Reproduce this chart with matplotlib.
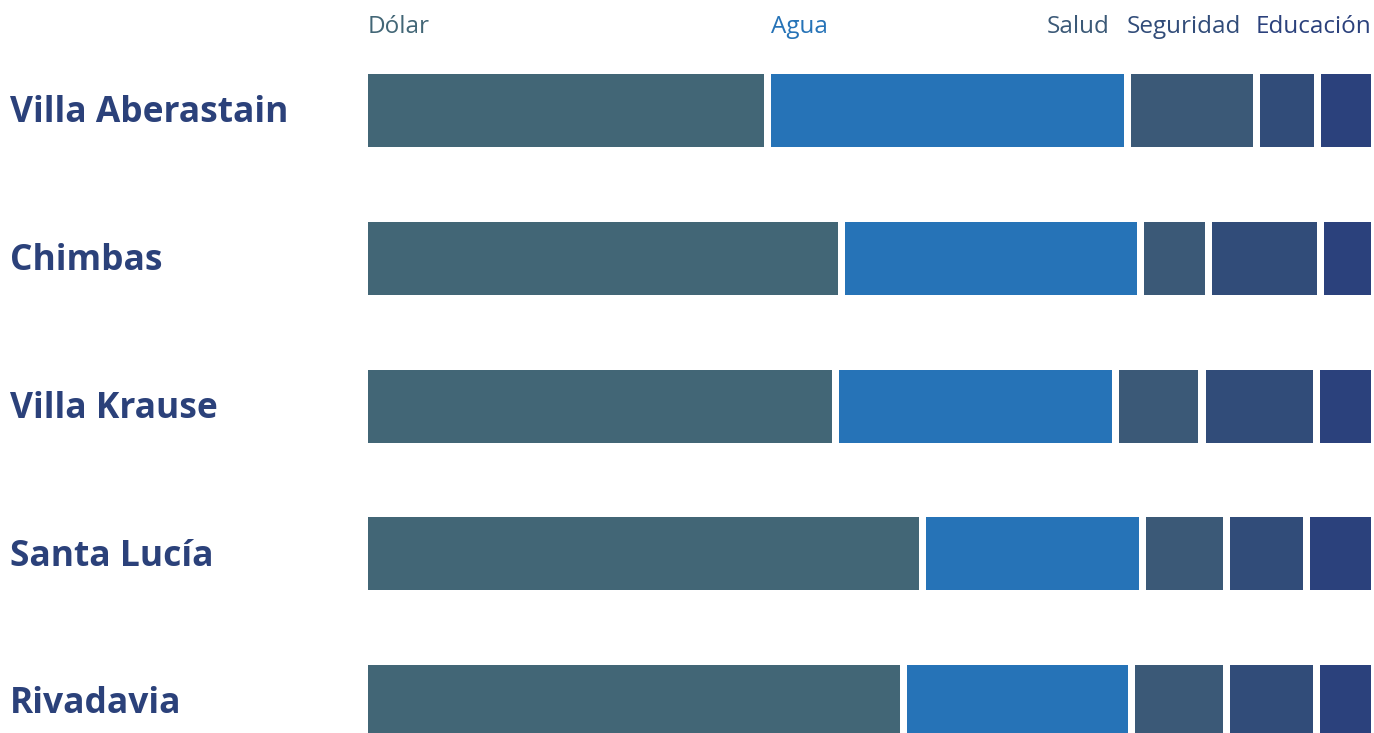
#!/usr/bin/env python3
"""Stacked horizontal bars: main concerns per locality (San Juan)."""
import matplotlib
matplotlib.use("Agg")
import matplotlib.pyplot as plt
from matplotlib.transforms import blended_transform_factory

# data (share of answers, %)
LOCALIDADES = ["Villa Aberastain", "Chimbas", "Villa Krause", "Santa Lucía", "Rivadavia"]
TEMAS = ["Dólar", "Agua", "Salud", "Seguridad", "Educación"]
DOLAR = [40.2, 47.6, 47.0, 55.6, 53.7]
AGUA = [35.9, 29.8, 27.9, 22.0, 22.8]
SALUD = [12.8, 6.7, 8.6, 8.3, 9.4]
SEGURIDAD = [6.1, 11.2, 11.4, 8.0, 9.0]
EDUCACION = [5.0, 4.7, 5.1, 6.1, 5.1]

COLORS = {
    "Dólar": "#426676",
    "Agua": "#2673B7",
    "Salud": "#3B5977",
    "Seguridad": "#314C79",
    "Educación": "#2B417C",
}
LABEL_COLOR = "#2B417A"
GAP = 0.7  # white space between segments, in % units

W, H = 1374, 733
fig = plt.figure(figsize=(W / 100, H / 100), dpi=100)
ax = fig.add_axes([368 / W, 0, (1371 - 368) / W, 1])

series = [DOLAR, AGUA, SALUD, SEGURIDAD, EDUCACION]
ys = list(range(len(LOCALIDADES)))
lefts = [0.0] * len(LOCALIDADES)
for k, (tema, vals) in enumerate(zip(TEMAS, series)):
    last = k == len(series) - 1
    widths = [v if last else v - GAP for v in vals]
    ax.barh(ys, widths, left=lefts, height=0.494, color=COLORS[tema],
            linewidth=0)
    lefts = [l + v for l, v in zip(lefts, vals)]

ax.set_xlim(0, 100)
ax.set_ylim(4.213, -0.748)
ax.axis("off")

# locality names on the left
tr = blended_transform_factory(fig.transFigure, ax.transData)
for y, name in zip(ys, LOCALIDADES):
    ax.text(10 / W, y + 0.08, name, transform=tr, ha="left", va="baseline",
            fontsize=25.5, fontweight="bold", family="Open Sans",
            color=LABEL_COLOR)

# topic labels on top (packed to avoid overlap, like the original)
top_y = -0.527
agua_x = DOLAR[0]
legend_pos = [(0, "left"), (agua_x, "left"), (73.9, "right"),
              (75.6, "left"), (100, "right")]
for tema, (x, ha) in zip(TEMAS, legend_pos):
    ax.text(x, top_y, tema, ha=ha, va="baseline", fontsize=17.5,
            family="Open Sans", color=COLORS[tema])

fig.savefig("out.png", dpi=100, facecolor="white")
